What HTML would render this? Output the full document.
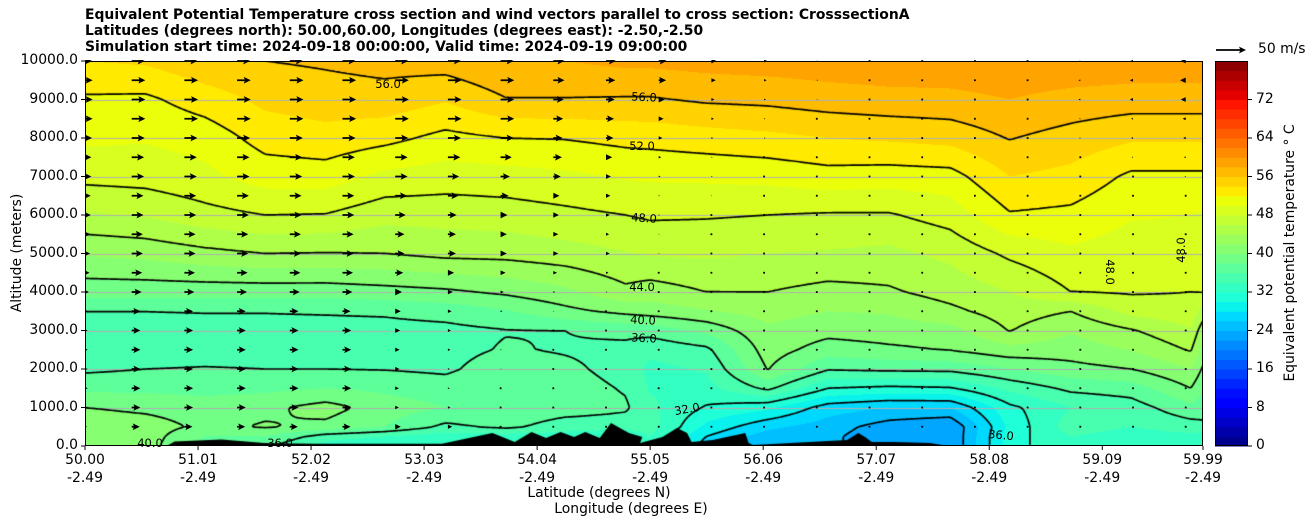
<!DOCTYPE html>
<html><head><meta charset="utf-8"><style>
html,body{margin:0;padding:0;background:#fff;}
body{width:1308px;height:526px;position:relative;overflow:hidden;font-family:"DejaVu Sans","Liberation Sans",sans-serif;color:#000;}
.t{position:absolute;white-space:nowrap;}
.title{font-weight:bold;font-size:13.9px;left:85px;}
.yt{font-size:13.9px;right:1230px;text-align:right;}
.xt{font-size:13.9px;transform:translateX(-50%);text-align:center;line-height:18px;}
.cl{font-size:11.5px;transform:translate(-50%,-50%);}
canvas,svg{position:absolute;}
</style></head><body>
<div class="t title" style="top:7px">Equivalent Potential Temperature cross section and wind vectors parallel to cross section: CrosssectionA</div>
<div class="t title" style="top:23px">Latitudes (degrees north): 50.00,60.00, Longitudes (degrees east): -2.50,-2.50</div>
<div class="t title" style="top:39px">Simulation start time: 2024-09-18 00:00:00, Valid time: 2024-09-19 09:00:00</div>

<canvas id="field" width="1118" height="385" style="left:85px;top:61px"></canvas>
<svg id="ov" width="1308" height="526" style="left:0;top:0"></svg>

<div id="labels"></div>
<div class="t" style="top:253px;font-size:13.9px;transform:translate(-50%,-50%) rotate(-90deg);left:17px">Altitude (meters)</div>
<div class="t" style="left:599px;top:485px;font-size:13.9px;transform:translateX(-50%)">Latitude (degrees N)</div>
<div class="t" style="left:631px;top:501px;font-size:13.9px;transform:translateX(-50%)">Longitude (degrees E)</div>
<div class="t" style="left:1290px;top:253px;font-size:13.9px;transform:translate(-50%,-50%) rotate(-90deg)">Equivalent potential temperature ° C</div>
<div class="t" style="left:1258px;top:41px;font-size:13.9px">50 m/s</div>

<script>
// ---- theta-e data: columns (latitude) x altitude rows ----
const colLat = [50.0,50.54,51.07,51.61,52.15,52.68,53.22,53.76,54.29,54.83,55.05,55.55,56.1,56.64,57.18,57.73,58.26,58.81,59.35,59.88,60.0];
const rowAlt = [10000,9000,8000,7000,6000,5000,4000,3500,3000,2500,2000,1500,1000,500,250,0];
const theta = [
[54,51.7,50.4,48.6,45.8,42.2,38.8,36,35.2,35,35.6,37.5,40,41.5,41.5,41.5],
[54.3,51.6,50.2,48.8,46.2,42.6,38.8,36,35.2,35.1,36,37.5,39.5,41,41,41],
[55.5,53,50.8,49.5,47.3,43.4,38.8,36.1,35.2,35.3,36.1,37.3,39,39.5,38,37],
[56,54.5,52.8,50.9,48,44,38.8,36.1,35.2,35.3,36,37.5,39.5,40.2,38,36.5],
[56.3,55,53.3,51,47.9,43.9,38.8,36.2,35.2,35.3,36,38,40.8,39.5,35,33],
[56.7,55.2,52.6,49.5,46.7,44,39.2,36.3,35.3,35.3,35.9,37.6,39,38,34,32],
[57,54.2,51.4,49,46.8,44.6,39.6,36.8,35.4,35.3,35.6,37,38,35.5,33,32],
[58,55.9,52,49.2,47,44.7,40.4,37.8,35.9,36.2,37.2,37.8,37.5,36.5,33,32],
[58,55.9,52.1,49.6,47.5,45.2,41.5,39.4,36,35.8,36.5,37,37,35,33,32],
[58.5,55.8,52.6,50.2,48,45.9,43.5,40.6,36.6,35.4,35.2,35.8,36.3,35,32,30],
[58.5,55.8,52.7,50.3,48.3,46.2,43,41,36.8,34.5,33.5,33.8,34.5,35,34,33],
[58.8,56.3,53.1,50.4,48.2,46.3,44,41.8,38.5,35.5,34.2,33.3,31.8,29.5,28,27],
[59,56.5,53.5,50.6,48,46,44,42.8,41.6,41,40.1,36.5,30.5,26.5,25,25],
[59.2,57,54,51.2,47.8,45.8,43.3,42,40.7,39,36.2,32,27,25,24.5,24.5],
[59.4,57.3,54.3,51,47.8,45.5,43.7,42.2,41,39.6,36.5,31.5,26,23,22.5,22.5],
[59.5,57.4,54.7,51.2,48.9,46.5,44.8,43.5,41.3,40.1,36.6,31.8,26,22,22,22],
[59.6,58,56.1,54,51.8,48.4,46,45,44.1,41.3,38,34.5,31.5,30.5,31,31],
[59.6,57.3,55.2,53.4,51.5,49.6,48,44,42.2,41,39.3,36.5,34,35,34,34],
[59.4,57,54.3,51.6,50.2,48.9,48.2,46.7,43.8,42.1,40,37,35,34,33,32],
[59.3,57,54.3,51.6,50,48.8,48,47.3,45.8,44.2,42,40,37.5,35,33.5,33],
[59.3,57,54.3,51.6,49.8,48.7,48.1,45,42.5,41,39.5,38,37,35.5,33,32]
];
// ---- terrain ----
const terrainLat = [50.0,50.73,50.8,51.22,51.6,52.05,52.56,53.19,53.64,53.84,53.99,54.12,54.25,54.37,54.47,54.6,54.7,54.86,54.98,54.96,55.16,55.29,55.38,55.42,55.61,55.9,55.93,55.97,56.81,56.91,56.97,57.03,57.23,57.55,57.71,60.0];
const terrainAlt = [0,0,120,170,80,60,60,60,338,104,364,208,364,234,364,208,598,338,234,78,234,468,338,104,156,338,78,26,156,338,234,104,104,78,0,0];
// ---- wind (m/s, along section), rows from 10000 m down to 500 m ----
const windAlt = [10000,9500,9000,8500,8000,7500,7000,6500,6000,5500,5000,4500,4000,3500,3000,2500,2000,1500,1000,500];
const windU = [
[21,21,21,21,21,21,21,21,21,18,16,13,8,5,2,1,1,1,0.5,-2,-4,-8],
[22,22,22,22,22,22,22,22,22,18,15,12,7,4,2,1,1,1,0,-3,-5,-9],
[22,22,22,22,22,22,22,22,22,17,14,10,5,3,1.5,1,1,0,-1,-3,-5,-8],
[22,22,22,22,22,22,22,22,22,16,13,8,4,2,1,1,0.5,0,-1,-2,-3,-5],
[21,21,21,21,21,21,21,21,21,15,12,6,3,2,1,1,0.5,0,-1,-2,-3,-4],
[20,20,20,20,20,20,20,20,18,14,10,4,2,1,1,1,1,0.5,0,-1,-2,-3],
[20,20,20,20,20,20,20,18,15,12,8,3,2,1,1,1,1,0.5,0,0,-1,-2],
[19,19,19,19,19,19,19,17,13,10,7,2,1.5,1,1,1,1,0.5,0,0,-1,-1],
[19,19,19,19,19,19,17,14,11,9,6,2,1,1,1,1,1,0.5,0,0,0,-1],
[18,18,18,18,18,18,15,13,10,8,5,1.5,1,1,1,1,1,0.5,0,0,0,0],
[18,18,18,18,18,18,15,13,10,8,6,1.5,1,1,1,1,1,0.5,0,0,0,0],
[17,17,17,17,17,17,13,10,8,6,4,1,1,1,1,1,1,0.5,0,0,0,0],
[16,16,16,16,16,16,11,8,5,3,2,1,1,1,1,1,1,0.5,0,0,0,0],
[14,14,14,14,14,13,9,6,3,1.5,1,1,1,1,1,1,1,0.5,0,0,0,0],
[14,14,14,14,14,14,8,5,2,1,1,1,1,1,1,1,1,0.5,0,0,0,0],
[14,14,14,14,14,14,7,4,2,1,1,1,1,1,1,1,1,0.5,0,0,0,0],
[14,14,14,14,14,14,7,3,1.5,1,1,1,1,1,1,1,1,0.5,0,0,0,0],
[14,14,14,14,14,14,6,3,1,1,1,1,1,1,1,1,1,0.5,0,0,0,0],
[14,14,14,14,14,14,6,4,1,1,1,1,1,1,1,1,1,0.5,0,0,0,0],
[13,13,13,13,13,13,9,7,1,1,1,1,1,1,1,1,1,0.5,0,0,0,0]
];
const yTicks = [0,1000,2000,3000,4000,5000,6000,7000,8000,9000,10000];
const xTickLat = [50.00,51.01,52.02,53.03,54.04,55.05,56.06,57.07,58.08,59.09,59.99];
const xTickLon = ["-2.49","-2.49","-2.49","-2.49","-2.49","-2.49","-2.49","-2.49","-2.49","-2.49","-2.49"];
const cbarTicks = [0,8,16,24,32,40,48,56,64,72];

// ---- axes ----
const PX0=85, PX1=1203, PY0=61, PY1=446;
const xS = lat => PX0 + (lat-50)*(PX1-PX0)/9.99;
const yS = alt => PY1 - alt*(PY1-PY0)/10000;
const vmin=0, vmax=80;

function interp(pts,t){for(let i=0;i<pts.length-1;i++){if(t<=pts[i+1][0]){const a=pts[i],b=pts[i+1];return a[1]+(b[1]-a[1])*(t-a[0])/(b[0]-a[0]);}}return pts[pts.length-1][1];}
function jet(t){t=Math.max(0,Math.min(1,t));
 const r=interp([[0,0],[0.35,0],[0.66,1],[0.89,1],[1,0.5]],t);
 const g=interp([[0,0],[0.125,0],[0.375,1],[0.64,1],[0.91,0],[1,0]],t);
 const b=interp([[0,0.5],[0.11,1],[0.34,1],[0.65,0],[1,0]],t);
 return [Math.round(r*255),Math.round(g*255),Math.round(b*255)];}
function bandColor(v){let k=Math.floor(v/2);k=Math.max(0,Math.min(39,k));return jet((k*2+1)/80);}

function field(px,py){
 const lat=50+(px-PX0)*9.99/(PX1-PX0);
 const alt=(PY1-py)*10000/(PY1-PY0);
 let j=0;while(j<colLat.length-2&&lat>colLat[j+1])j++;
 let fx=(lat-colLat[j])/(colLat[j+1]-colLat[j]);fx=Math.max(0,Math.min(1,fx));
 let i=0;while(i<rowAlt.length-2&&alt<rowAlt[i+1])i++;
 let fy=(rowAlt[i]-alt)/(rowAlt[i]-rowAlt[i+1]);fy=Math.max(0,Math.min(1,fy));
 const a=theta[j][i],b=theta[j+1][i],c=theta[j][i+1],d=theta[j+1][i+1];
 return (a*(1-fx)+b*fx)*(1-fy)+(c*(1-fx)+d*fx)*fy;}

const cv=document.getElementById('field');const ctx=cv.getContext('2d');
const W=cv.width,H=cv.height;const img=ctx.createImageData(W,H);
for(let y=0;y<H;y++)for(let x=0;x<W;x++){const v=field(PX0+x+0.5,PY0+y+0.5);const c=bandColor(v);const o=(y*W+x)*4;img.data[o]=c[0];img.data[o+1]=c[1];img.data[o+2]=c[2];img.data[o+3]=255;}
ctx.putImageData(img,0,0);
ctx.strokeStyle='#b0b0b0';ctx.lineWidth=1;
yTicks.forEach(a=>{const y=Math.round(yS(a)-PY0)+0.5;ctx.beginPath();ctx.moveTo(0,y);ctx.lineTo(W,y);ctx.stroke();});
const st=2,nx=Math.floor(W/st)+1,ny=Math.floor(H/st)+1;const G=new Float32Array(nx*ny);
for(let j=0;j<ny;j++)for(let i=0;i<nx;i++)G[j*nx+i]=field(PX0+i*st,PY0+j*st);
ctx.strokeStyle='#000';ctx.lineWidth=1.7;ctx.lineJoin='round';
for(let L=4;L<80;L+=4){ctx.beginPath();
 for(let j=0;j<ny-1;j++)for(let i=0;i<nx-1;i++){
  const a=G[j*nx+i],b=G[j*nx+i+1],c=G[(j+1)*nx+i+1],d=G[(j+1)*nx+i];
  const idx=(a>L?8:0)|(b>L?4:0)|(c>L?2:0)|(d>L?1:0);if(idx===0||idx===15)continue;
  const x0=i*st,y0=j*st;
  const T=[x0+st*(L-a)/(b-a),y0],R=[x0+st,y0+st*(L-b)/(c-b)],B=[x0+st*(L-d)/(c-d),y0+st],Lf=[x0,y0+st*(L-a)/(d-a)];
  const segs={1:[[Lf,B]],2:[[B,R]],3:[[Lf,R]],4:[[T,R]],5:[[Lf,T],[B,R]],6:[[T,B]],7:[[Lf,T]],8:[[Lf,T]],9:[[T,B]],10:[[T,R],[Lf,B]],11:[[T,R]],12:[[Lf,R]],13:[[B,R]],14:[[Lf,B]]}[idx];
  segs.forEach(s=>{ctx.moveTo(s[0][0],s[0][1]);ctx.lineTo(s[1][0],s[1][1]);});}
 ctx.stroke();}
ctx.fillStyle='#000';ctx.beginPath();ctx.moveTo(xS(terrainLat[0])-PX0,H);
terrainLat.forEach((t,k)=>ctx.lineTo(xS(t)-PX0,yS(terrainAlt[k])-PY0));
ctx.lineTo(W,H);ctx.closePath();ctx.fill();

// ---- SVG overlay ----
const NS='http://www.w3.org/2000/svg';const svg=document.getElementById('ov');
function mk(tag,at){const e=document.createElementNS(NS,tag);for(const k in at)e.setAttribute(k,at[k]);svg.appendChild(e);return e;}
const clip=mk('clipPath',{id:'pc'});const cr=document.createElementNS(NS,'rect');cr.setAttribute('x',PX0);cr.setAttribute('y',PY0-1);cr.setAttribute('width',PX1-PX0);cr.setAttribute('height',PY1-PY0+1);clip.appendChild(cr);
const ag=mk('g',{'clip-path':'url(#pc)'});


const pxPerMs=0.62, colX0=79, colDx=52.7;
function arrowPts(x,y,L,s){
 const hl=7,hw=3.4,sw=0.9;
 if(L<0.8){return null;}
 if(L<hl){const k=L/hl;return [[x,y-hw*k],[x+s*L,y],[x,y+hw*k]];}
 return [[x,y-sw],[x+s*(L-hl*0.85),y-sw],[x+s*(L-hl),y-hw],[x+s*L,y],[x+s*(L-hl),y+hw],[x+s*(L-hl*0.85),y+sw],[x,y+sw]];}
windU.forEach((row,r)=>{row.forEach((u,c)=>{
 const x=colX0+c*colDx,y=yS(windAlt[r]);const L=Math.abs(u)*pxPerMs;const s=u<0?-1:1;
 const p=arrowPts(x,y,L,s);let e;
 if(p){e=document.createElementNS(NS,'polygon');e.setAttribute('points',p.map(q=>q.join(',')).join(' '));}
 else{e=document.createElementNS(NS,'rect');e.setAttribute('x',x-0.9);e.setAttribute('y',y-0.9);e.setAttribute('width',1.8);e.setAttribute('height',1.8);}
 e.setAttribute('fill','#000');
 
 
 ag.appendChild(e);});});
const fr=mk('rect',{x:PX0+0.5,y:PY0+0.5,width:PX1-PX0-1,height:PY1-PY0-1,fill:'none',stroke:'#000','stroke-width':1});


const lab=document.getElementById('labels');
function addText(cls,txt,x,y,name,extra){const d=document.createElement('div');d.className='t '+cls;d.textContent=txt;d.style.left=x+'px';d.style.top=y+'px';if(extra)d.style.cssText+=extra;
 
 
 lab.appendChild(d);return d;}
yTicks.forEach(a=>{const y=yS(a);mk('line',{x1:PX0-4,x2:PX0,y1:y,y2:y,stroke:'#000'});
 addText('yt',a.toFixed(1),0,y-9,'y-tick-label');});
xTickLat.forEach((t,k)=>{const x=xS(t);mk('line',{x1:x,x2:x,y1:PY1,y2:PY1+4,stroke:'#000'});
 addText('xt','',x,451,'x-tick-label').innerHTML=t.toFixed(2)+'<br>'+xTickLon[k];});
const CX0=1215,CX1=1248;const cbS=v=>PY1-(v-vmin)*(PY1-PY0)/(vmax-vmin);
const cg=mk('g',{});
for(let k=0;k<40;k++){const c=jet((k*2+1)/80);const r=document.createElementNS(NS,'rect');
 r.setAttribute('x',CX0);r.setAttribute('y',cbS(k*2+2));r.setAttribute('width',CX1-CX0);r.setAttribute('height',cbS(k*2)-cbS(k*2+2)+0.5);
 r.setAttribute('fill','rgb('+c.join(',')+')');
 
 
 cg.appendChild(r);}
mk('rect',{x:CX0+0.5,y:PY0+0.5,width:CX1-CX0-1,height:PY1-PY0-1,fill:'none',stroke:'#000'});
cbarTicks.forEach(v=>{const y=cbS(v);mk('line',{x1:CX1,x2:CX1+4,y1:y,y2:y,stroke:'#000'});addText('',String(v),CX1+8,y-9,'colorbar-tick-label','font-size:13.9px');});
const qk=mk('polygon',{points:arrowPts(1216,50,50*0.6,1).map(q=>q.join(',')).join(' '),fill:'#000'});


const cLabels=[["56.0",388,84,0],["56.0",644,97,3],["52.0",642,146,0],["48.0",644,218,4],["44.0",642,287,0],["40.0",643,320,3],["36.0",644,338,3],["32.0",687,409,-10],["36.0",1001,435,5],["48.0",1110,272,90],["48.0",1181,250,-90],["40.0",150,443,0],["36.0",280,443,0]];
cLabels.forEach(l=>{addText('cl',l[0],l[1],l[2],'contour-label','transform:translate(-50%,-50%) rotate('+l[3]+'deg)');});
</script>
</body></html>
